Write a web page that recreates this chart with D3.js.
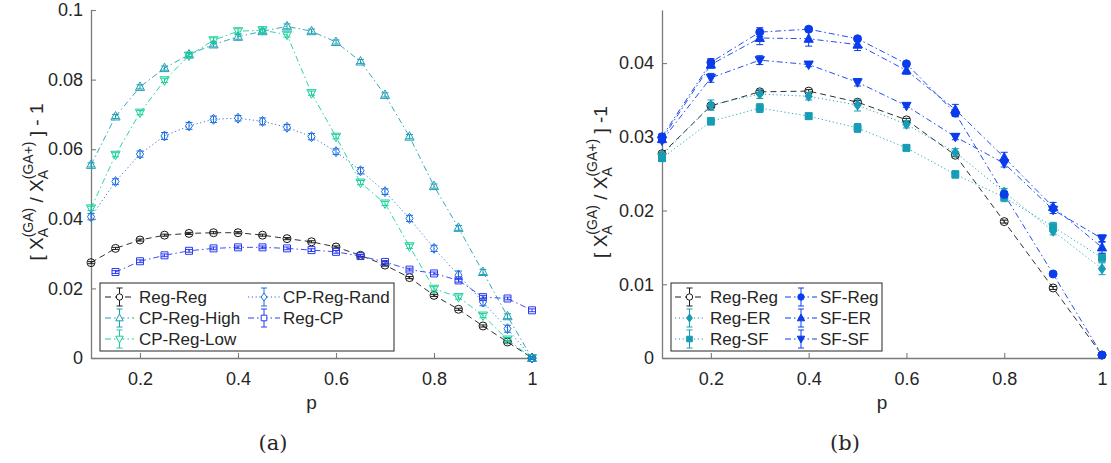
<!DOCTYPE html>
<html>
<head>
<meta charset="utf-8">
<script src="https://cdn.jsdelivr.net/npm/d3@7"></script>
<style>
  body { margin: 0; background: #fff; }
  svg { display: block; }
  text { font-family: "Liberation Sans", Arial, Helvetica, sans-serif; fill: #262626; }
</style>
</head>
<body>
<svg id="fig" width="1111" height="463"></svg>
<script>
// ---- panel (a): fraction of infected in the GA vs GA+ model ----
const pA = [0.1, 0.15, 0.2, 0.25, 0.3, 0.35, 0.4, 0.45, 0.5, 0.55, 0.6, 0.65, 0.7, 0.75, 0.8, 0.85, 0.9, 0.95, 1.0];
const regRegA  = [0.0274, 0.0315, 0.0339, 0.0353, 0.0358, 0.0360, 0.0360, 0.0353, 0.0343, 0.0334, 0.0319, 0.0295, 0.0267, 0.0231, 0.0180, 0.0140, 0.0092, 0.0046, 0.0000];
const regRegAErr = [0.0003, 0.0003, 0.0003, 0.0003, 0.0003, 0.0003, 0.0003, 0.0003, 0.0003, 0.0003, 0.0003, 0.0003, 0.0003, 0.0003, 0.0003, 0.0003, 0.0003, 0.0003, 0.0002];
const cpHighA  = [0.0555, 0.0694, 0.0779, 0.0833, 0.0872, 0.0901, 0.0923, 0.0939, 0.0953, 0.0939, 0.0908, 0.0852, 0.0756, 0.0636, 0.0494, 0.0374, 0.0247, 0.0120, 0.0000];
const cpHighAErr = [0.0006, 0.0006, 0.0006, 0.0006, 0.0006, 0.0007, 0.0007, 0.0006, 0.0007, 0.0006, 0.0006, 0.0006, 0.0006, 0.0006, 0.0006, 0.0007, 0.0007, 0.0007, 0.0003];
const cpLowA   = [0.0430, 0.0584, 0.0705, 0.0798, 0.0869, 0.0913, 0.0939, 0.0942, 0.0929, 0.0761, 0.0636, 0.0504, 0.0444, 0.0321, 0.0199, 0.0175, 0.0122, 0.0053, 0.0000];
const cpLowAErr  = [0.0006, 0.0006, 0.0006, 0.0006, 0.0006, 0.0007, 0.0007, 0.0006, 0.0007, 0.0006, 0.0006, 0.0006, 0.0006, 0.0006, 0.0006, 0.0006, 0.0006, 0.0006, 0.0003];
const cpRandA  = [0.0406, 0.0507, 0.0586, 0.0638, 0.0667, 0.0686, 0.0689, 0.0680, 0.0663, 0.0636, 0.0593, 0.0538, 0.0478, 0.0401, 0.0315, 0.0238, 0.0161, 0.0084, 0.0000];
const cpRandAErr = [0.0009, 0.0008, 0.0009, 0.0010, 0.0010, 0.0009, 0.0008, 0.0010, 0.0008, 0.0009, 0.0008, 0.0009, 0.0008, 0.0009, 0.0009, 0.0012, 0.0011, 0.0010, 0.0004];
const regCpA   = [null,   0.0247, 0.0278, 0.0295, 0.0308, 0.0315, 0.0318, 0.0318, 0.0315, 0.0310, 0.0305, 0.0293, 0.0276, 0.0254, 0.0243, 0.0223, 0.0175, 0.0171, 0.0137];
const regCpAErr  = [null,   0.0004, 0.0004, 0.0004, 0.0004, 0.0004, 0.0004, 0.0004, 0.0004, 0.0004, 0.0004, 0.0004, 0.0004, 0.0004, 0.0004, 0.0005, 0.0005, 0.0004, 0.0004];

// ---- panel (b) ----
const pB = [0.1, 0.2, 0.3, 0.4, 0.5, 0.6, 0.7, 0.8, 0.9, 1.0];
const regRegB  = [0.0277, 0.0342, 0.0361, 0.0362, 0.0347, 0.0323, 0.0275, 0.0185, 0.0095, 0.0004];
const regRegBErr = [0.0002, 0.0002, 0.0002, 0.0002, 0.0002, 0.0002, 0.0002, 0.0002, 0.0002, 0.0001];
const regErB   = [0.0275, 0.0343, 0.0358, 0.0355, 0.0343, 0.0317, 0.0279, 0.0225, 0.0172, 0.0121];
const regErBErr  = [0.0004, 0.0007, 0.0006, 0.0005, 0.0008, 0.0005, 0.0005, 0.0005, 0.0005, 0.0008];
const regSfB   = [0.0271, 0.0321, 0.0339, 0.0328, 0.0312, 0.0285, 0.0249, 0.0218, 0.0178, 0.0136];
const regSfBErr  = [0.0004, 0.0005, 0.0006, 0.0004, 0.0006, 0.0004, 0.0005, 0.0006, 0.0006, 0.0006];
const sfRegB   = [0.0300, 0.0401, 0.0442, 0.0446, 0.0433, 0.0399, 0.0332, 0.0222, 0.0114, 0.0004];
const sfRegBErr  = [0.0004, 0.0005, 0.0006, 0.0003, 0.0003, 0.0003, 0.0004, 0.0004, 0.0003, 0.0001];
const sfErB    = [0.0297, 0.0398, 0.0434, 0.0433, 0.0425, 0.0390, 0.0337, 0.0272, 0.0205, 0.0150];
const sfErBErr   = [0.0004, 0.0005, 0.0009, 0.0010, 0.0008, 0.0005, 0.0007, 0.0007, 0.0006, 0.0008];
const sfSfB    = [0.0295, 0.0380, 0.0404, 0.0398, 0.0374, 0.0342, 0.0300, 0.0264, 0.0201, 0.0162];
const sfSfBErr   = [0.0003, 0.0006, 0.0006, 0.0003, 0.0005, 0.0002, 0.0004, 0.0005, 0.0005, 0.0005];

// ---- axis ticks ----
const xTickValues = [0.2, 0.4, 0.6, 0.8, 1.0];
const xTickLabels = ["0.2", "0.4", "0.6", "0.8", "1"];
const yTickValuesA = [0, 0.02, 0.04, 0.06, 0.08, 0.1];
const yTickLabelsA = ["0", "0.02", "0.04", "0.06", "0.08", "0.1"];
const yTickValuesB = [0, 0.01, 0.02, 0.03, 0.04];
const yTickLabelsB = ["0", "0.01", "0.02", "0.03", "0.04"];

// ---- styles ----
const DASH = "6,4", DASHDOT = "6,3,1.5,3", DOT = "1.2,2.6";
const seriesA = [
  { name: "Reg-Reg",     v: regRegA, e: regRegAErr, color: "#1a1a1a", dash: DASH,    marker: "circle",  fill: false },
  { name: "CP-Reg-High", v: cpHighA, e: cpHighAErr, color: "#1f9fb8", dash: DASHDOT, marker: "triUp",   fill: false },
  { name: "CP-Reg-Low",  v: cpLowA,  e: cpLowAErr,  color: "#18cf9c", dash: DASHDOT, marker: "triDown", fill: false },
  { name: "CP-Reg-Rand", v: cpRandA, e: cpRandAErr, color: "#1c6fe0", dash: DOT,     marker: "diamond", fill: false },
  { name: "Reg-CP",      v: regCpA,  e: regCpAErr,  color: "#2a3cf0", dash: DASHDOT, marker: "square",  fill: false }
];
const seriesB = [
  { name: "Reg-Reg", v: regRegB, e: regRegBErr, color: "#1a1a1a", dash: DASH,    marker: "circle",  fill: false },
  { name: "Reg-ER",  v: regErB,  e: regErBErr,  color: "#169db5", dash: DOT,     marker: "diamond", fill: true },
  { name: "Reg-SF",  v: regSfB,  e: regSfBErr,  color: "#169db5", dash: DOT,     marker: "square",  fill: true },
  { name: "SF-Reg",  v: sfRegB,  e: sfRegBErr,  color: "#0a3cec", dash: DASHDOT, marker: "circle",  fill: true },
  { name: "SF-ER",   v: sfErB,   e: sfErBErr,   color: "#0a3cec", dash: DASHDOT, marker: "triUp",   fill: true },
  { name: "SF-SF",   v: sfSfB,   e: sfSfBErr,   color: "#0a3cec", dash: DASHDOT, marker: "triDown", fill: true }
];

const svg = d3.select("#fig");
const AXIS = "#7a7a7a";

function markerPath(kind, s) {
  const p = d3.path();
  if (kind === "circle") { p.arc(0, 0, 4 * s, 0, 2 * Math.PI); }
  else if (kind === "square") { p.rect(-3.5 * s, -3.5 * s, 7 * s, 7 * s); }
  else if (kind === "triUp") { p.moveTo(0, -5 * s); p.lineTo(4.6 * s, 3.5 * s); p.lineTo(-4.6 * s, 3.5 * s); p.closePath(); }
  else if (kind === "triDown") { p.moveTo(0, 5 * s); p.lineTo(4.6 * s, -3.5 * s); p.lineTo(-4.6 * s, -3.5 * s); p.closePath(); }
  else if (kind === "diamond") { p.moveTo(0, -5 * s); p.lineTo(3.6 * s, 0); p.lineTo(0, 5 * s); p.lineTo(-3.6 * s, 0); p.closePath(); }
  return p.toString();
}

function errBar(g, cx, yTop, yBot, color, cap) {
  g.append("line").attr("x1", cx).attr("x2", cx).attr("y1", yTop).attr("y2", yBot)
    .attr("stroke", color).attr("stroke-width", 1);
  [yTop, yBot].forEach(yy => g.append("line").attr("x1", cx - cap).attr("x2", cx + cap)
    .attr("y1", yy).attr("y2", yy).attr("stroke", color).attr("stroke-width", 1));
}

function yLabel(cx, cy, tail) {
  const outer = svg.append("g").attr("transform", `translate(${cx},${cy}) rotate(-90)`);
  const g = outer.append("g");
  let cur = 0;
  const put = (str, size, dy) => {
    const t = g.append("text").attr("x", cur).attr("y", dy).style("font-size", size + "px").text(str);
    return t.node().getComputedTextLength();
  };
  const big = 19, small = 14;
  cur += put("[\u00A0X", big, 0);
  let w1 = put("A", small, 5), w2 = put("(GA)", small, -10);
  cur += Math.max(w1, w2);
  cur += put("\u00A0/\u00A0X", big, 0);
  w1 = put("A", small, 5); w2 = put("(GA+)", small, -10);
  cur += Math.max(w1, w2);
  cur += put(tail, big, 0);
  g.attr("transform", `translate(${-cur / 2},0)`);
}

function drawPanel(cfg) {
  const g = svg.append("g");
  const x = d3.scaleLinear().domain([0.1, 1]).range([cfg.x0, cfg.x1]);
  const y = d3.scaleLinear().domain([0, cfg.yMax]).range([cfg.yBase, cfg.yTop]);

  const xAxis = d3.axisBottom(x).tickValues(xTickValues)
    .tickFormat((d, i) => xTickLabels[i]).tickSizeInner(-5).tickSizeOuter(0).tickPadding(14);
  const yAxis = d3.axisLeft(y).tickValues(cfg.yTicks)
    .tickFormat((d, i) => cfg.yLabels[i]).tickSizeInner(-5).tickSizeOuter(0).tickPadding(8);

  const gx = g.append("g").attr("transform", `translate(0,${cfg.yBase})`).call(xAxis);
  const gy = g.append("g").attr("transform", `translate(${cfg.x0},0)`).call(yAxis);
  [gx, gy].forEach(a => {
    a.select(".domain").attr("stroke", AXIS).attr("stroke-width", 1.3);
    a.selectAll(".tick line").attr("stroke", AXIS).attr("stroke-width", 1.1);
    a.selectAll(".tick text").attr("fill", "#262626")
      .style("font-size", "18px").style("font-family", '"Liberation Sans", Arial, sans-serif');
  });

  // series
  cfg.series.forEach(s => {
    const pts = cfg.p.map((p, i) => ({ p, v: s.v[i], e: s.e[i] })).filter(d => d.v != null);
    g.append("path")
      .attr("d", d3.line().x(d => x(d.p)).y(d => y(d.v))(pts))
      .attr("fill", "none").attr("stroke", s.color).attr("stroke-width", 1)
      .attr("stroke-dasharray", s.dash).attr("stroke-opacity", 0.9);
    const eg = g.append("g");
    pts.forEach(d => errBar(eg, x(d.p), y(d.v + d.e), y(d.v - d.e), s.color, 3.5));
    g.append("g").selectAll("path").data(pts).join("path")
      .attr("transform", d => `translate(${x(d.p)},${y(d.v)})`)
      .attr("d", markerPath(s.marker, 1))
      .attr("fill", s.fill ? s.color : "none")
      .attr("stroke", s.color).attr("stroke-width", 1);
  });

  // axis title
  g.append("text").attr("x", (cfg.x0 + cfg.x1) / 2).attr("y", 409)
    .attr("text-anchor", "middle").style("font-size", "19px").text("p");

  // sub-figure tag
  g.append("text").attr("x", cfg.tagX).attr("y", 450).attr("text-anchor", "middle")
    .style("font-family", '"DejaVu Serif", "Liberation Serif", serif').style("font-size", "21px")
    .text(cfg.tag);

  // legend
  const L = cfg.legend;
  const lg = svg.append("g");
  lg.append("rect").attr("x", L.x).attr("y", L.y).attr("width", L.w).attr("height", L.h)
    .attr("fill", "#fff").attr("stroke", "#262626").attr("stroke-width", 1);
  cfg.series.forEach((s, i) => {
    const col = L.cols[Math.floor(i / 3)], row = i % 3;
    const cy = L.y + 14 + row * 21;
    lg.append("line").attr("x1", col.l0).attr("x2", col.l1).attr("y1", cy).attr("y2", cy)
      .attr("stroke", s.color).attr("stroke-width", 1).attr("stroke-dasharray", s.dash);
    const mx = (col.l0 + col.l1) / 2;
    errBar(lg, mx, cy - 9, cy + 9, s.color, 3);
    lg.append("path").attr("transform", `translate(${mx},${cy})`)
      .attr("d", markerPath(s.marker, 0.8))
      .attr("fill", s.fill ? s.color : "#fff").attr("stroke", s.color).attr("stroke-width", 1);
    lg.append("text").attr("x", col.t).attr("y", cy).attr("dy", "0.36em")
      .style("font-size", "17px").text(s.name);
  });
}

drawPanel({
  p: pA, series: seriesA, x0: 91, x1: 532, yBase: 358, yTop: 10, yMax: 0.1,
  yTicks: yTickValuesA, yLabels: yTickLabelsA, tag: "(a)", tagX: 273,
  legend: { x: 100, y: 283, w: 294, h: 68,
            cols: [{ l0: 105, l1: 134, t: 139 }, { l0: 248, l1: 280, t: 283 }] }
});
drawPanel({
  p: pB, series: seriesB, x0: 662, x1: 1102, yBase: 358, yTop: 10, yMax: 0.0472,
  yTicks: yTickValuesB, yLabels: yTickLabelsB, tag: "(b)", tagX: 845,
  legend: { x: 671, y: 283, w: 211, h: 68,
            cols: [{ l0: 675, l1: 704, t: 710 }, { l0: 785, l1: 817, t: 820 }] }
});

yLabel(43, 182, "\u00A0]\u00A0-\u00A01");
yLabel(607, 182, "\u00A0]\u00A0-1");
</script>
</body>
</html>
